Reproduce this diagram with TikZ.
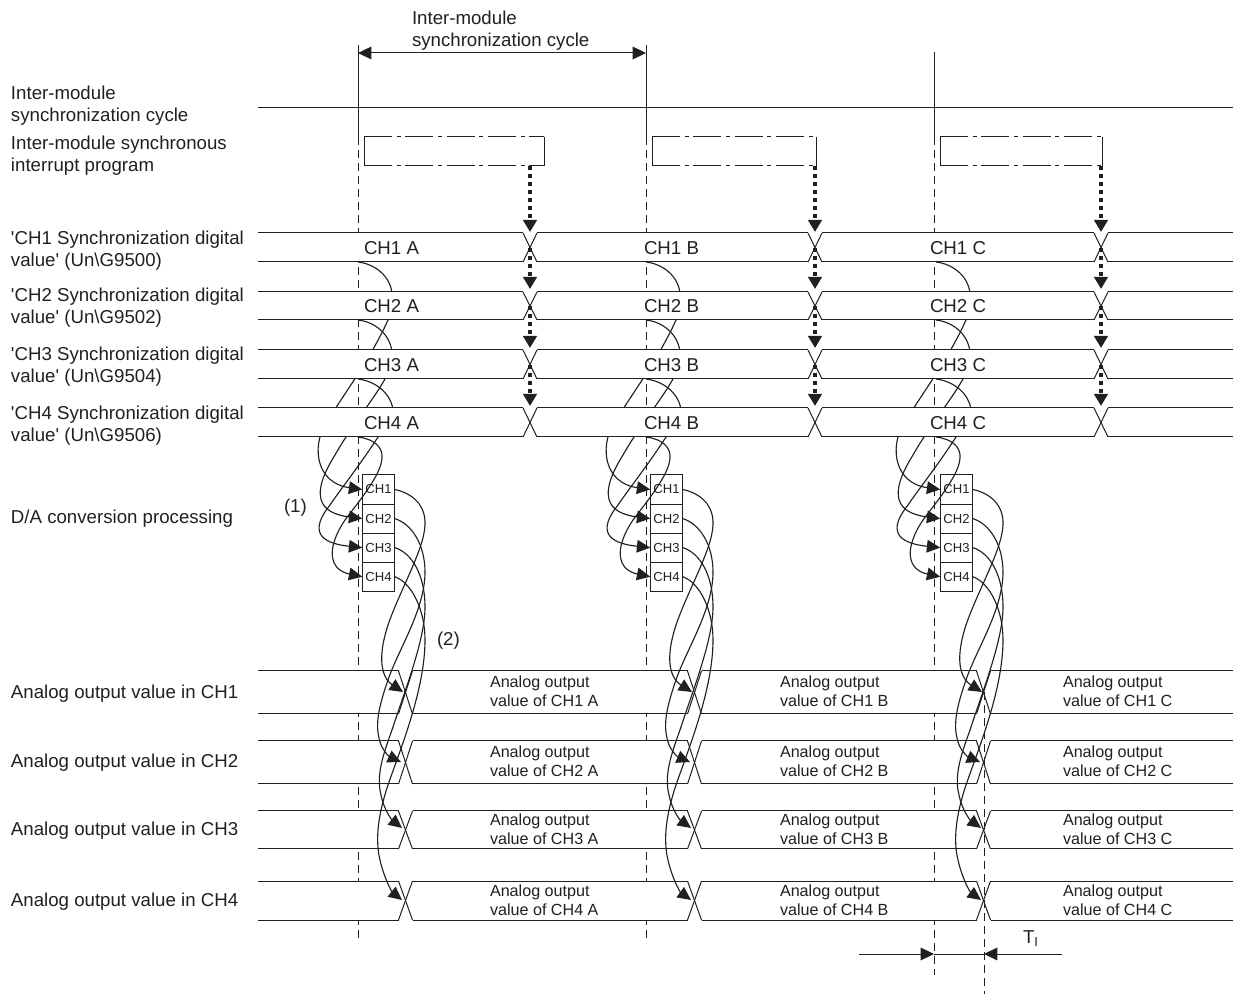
\documentclass[tikz,border=0pt]{standalone}
\usepackage{fontspec}
\setmainfont{Liberation Sans}
\usetikzlibrary{arrows.meta, positioning}
\definecolor{melink}{RGB}{35, 31, 32}
\newcommand{\busband}[3]{%
  \fill[white] (258,#1) rectangle (1233,#2);
  \foreach \cx [remember=\cx as \px (initially 251)] in {#3} {
    \draw[sig] (\px+7,#1) -- (\cx-7,#1);
    \draw[sig] (\px+7,#2) -- (\cx-7,#2);
    \draw[sig] (\cx-7,#1) -- (\cx+7,#2);
    \draw[sig] (\cx-7,#2) -- (\cx+7,#1);
    \xdef\lastx{\cx}
  }
  \draw[sig] (\lastx+7,#1) -- (1233,#1);
  \draw[sig] (\lastx+7,#2) -- (1233,#2);
}

\begin{document}
\begin{tikzpicture}[
  x=0.75pt, y=-0.75pt,
  every node/.style={text=melink, inner sep=0pt, outer sep=0pt},
  sig/.style={draw=melink, line width=0.75pt},
  guide/.style={draw=melink, line width=0.75pt, dash pattern=on 6pt off 3.75pt},
  lbl/.style={anchor=west, align=left, yshift=-1.5pt, font=\fontsize{14}{16.6}\selectfont},
  val/.style={anchor=west, font=\fontsize{14}{16.6}\selectfont},
  outlbl/.style={anchor=west, align=left, font=\fontsize{12.1}{14}\selectfont},
  progdash/.style={draw=melink, line width=0.75pt,
                   dash pattern=on 21pt off 3.5pt on 3pt off 3.5pt},
  chbox/.style={draw=melink, line width=0.75pt, minimum width=24.4pt, minimum height=21.8pt,
                font=\fontsize{9.8}{11}\selectfont},
  trig/.style={draw=melink, line width=2.3pt, dash pattern=on 3.2pt off 2.8pt,
               -{Triangle[length=9pt, width=10pt]}},
  wire/.style={draw=melink, line width=0.85pt, -{Triangle[length=10pt, width=9.5pt]}},
  plain/.style={draw=melink, line width=0.75pt}
]
\useasboundingbox (0,0) rectangle (1233,994);

% ── Guides ───────────────────────────────────────────────────────────────────
\foreach \col/\gx/\gtop/\gend in {A/358/45/940, B/646/45/940, C/934/52/975} {
  \coordinate (top\col) at (\gx,\gtop);
  \coordinate (sync\col) at (\gx,137);
  \coordinate (end\col) at (\gx,\gend);
  \draw[plain] (top\col) -- (sync\col);
  \draw[guide] (sync\col) -- (end\col);
}

% ── Curves behind the digital values ─────────────────────────────────────────
\foreach \col/\dx in {A/0, B/288, C/578} {
  \begin{scope}[shift={(\dx,0)}]
    \node[chbox] (da\col1) at (378.5,489.5) {CH1};
    \node[chbox, below=0pt of da\col1] (da\col2) {CH2};
    \node[chbox, below=0pt of da\col2] (da\col3) {CH3};
    \node[chbox, below=0pt of da\col3] (da\col4) {CH4};

    \draw[wire] (358,262) .. controls (375,264) and (390,276) .. (392,293)
      .. controls (393,300) and (392,308) .. (388,320)
      .. controls (370,360) and (345,392) .. (325,425)
      .. controls (312,447) and (316,483) .. (da\col1.west);
    \draw[wire] (358,320) .. controls (375,322) and (390,334) .. (392,352)
      .. controls (392,362) and (390,370) .. (385,379)
      .. controls (372,402) and (352,425) .. (335,455)
      .. controls (310,495) and (318,513) .. (da\col2.west);
    \draw[wire] (358,379) .. controls (375,381) and (391,393) .. (393,410)
      .. controls (394,420) and (385,428) .. (378,437)
      .. controls (360,465) and (340,490) .. (330,505)
      .. controls (310,530) and (318,543) .. (da\col3.west);
    \draw[wire] (358,437) .. controls (374,439) and (383,447) .. (382,458)
      .. controls (381,475) and (360,500) .. (345,520)
      .. controls (325,550) and (330,570) .. (da\col4.west);
  \end{scope}
}

% ── Digital values ───────────────────────────────────────────────────────────
\busband{233}{262}{530,815,1101}
\busband{292}{320}{530,815,1101}
\busband{350}{379}{530,815,1101}
\busband{408}{437}{530,815,1101}

\foreach \ch/\vy in {1/248, 2/306, 3/365, 4/423} {
  \node[val] (valA\ch) at (364,\vy) {CH\ch{} A};
  \node[val] (valB\ch) at (644,\vy) {CH\ch{} B};
  \node[val] (valC\ch) at (930,\vy) {CH\ch{} C};
}

% ── Analog values ────────────────────────────────────────────────────────────
\busband{671}{714}{405.5,694.5,983.5}
\busband{741}{784}{405.5,694.5,983.5}
\busband{811}{849}{405.5,694.5,983.5}
\busband{881}{920}{405.5,694.5,983.5}

\foreach \ch/\oy in {1/691.5, 2/761, 3/829.5, 4/900} {
  \node[outlbl] (outA\ch) at (490,\oy) {Analog output\\value of CH\ch{} A};
  \node[outlbl] (outB\ch) at (780,\oy) {Analog output\\value of CH\ch{} B};
  \node[outlbl] (outC\ch) at (1063,\oy) {Analog output\\value of CH\ch{} C};
}

% ── Cycle line, program boxes, triggers ──────────────────────────────────────
\coordinate (cycleL) at (258,108);
\coordinate (cycleR) at (1233,108);
\draw[plain] (cycleL) -- (cycleR);

\foreach \col/\bl/\br/\trx in {A/364/544/530, B/652/816/815, C/940/1102/1101} {
  \draw[plain] (\bl,137) -- (\bl,166);
  \draw[plain] (\br,137) -- (\br,166);
  \draw[progdash] (\bl,137) -- (\br,137);
  \draw[progdash] (\bl,166) -- (\br,166);
  \coordinate (prog\col) at (\trx,166);
  \coordinate (x1\col) at (\trx,248);
  \coordinate (x2\col) at (\trx,306);
  \coordinate (x3\col) at (\trx,365);
  \coordinate (hit1\col) at (\trx,232);
  \coordinate (hit2\col) at (\trx,289);
  \coordinate (hit3\col) at (\trx,348);
  \coordinate (hit4\col) at (\trx,406);
  \draw[trig] (prog\col) -- (hit1\col);
  \draw[trig] (x1\col) -- (hit2\col);
  \draw[trig] (x2\col) -- (hit3\col);
  \draw[trig] (x3\col) -- (hit4\col);
}

% ── Curves to the analog values ──────────────────────────────────────────────
\foreach \col/\dx/\tx in {A/0/0, B/288/289, C/578/579} {
  \coordinate (tip\col1) at (403+\tx,692);
  \coordinate (tip\col2) at (401+\tx,762);
  \coordinate (tip\col3) at (402+\tx,828);
  \coordinate (tip\col4) at (402+\tx,900);
  \begin{scope}[shift={(\dx,0)}]
    \draw[wire] (da\col1.east) .. controls (412,493) and (426,505) .. (425,525)
      .. controls (424,550) and (400,590) .. (388,625)
      .. controls (375,665) and (385,680) .. (tip\col1);
    \draw[wire] (da\col2.east) .. controls (412,524) and (425,545) .. (425,572)
      .. controls (425,610) and (398,650) .. (388,680)
      .. controls (380,703) and (375,722) .. (379,738)
      .. controls (381,750) and (390,757) .. (tip\col2);
    \draw[wire] (da\col3.east) .. controls (412,553) and (425,575) .. (425,607)
      .. controls (425,640) and (405,690) .. (392,730)
      .. controls (383,755) and (376,775) .. (381,795)
      .. controls (384,810) and (392,820) .. (tip\col3);
    \draw[wire] (da\col4.east) .. controls (412,583) and (425,610) .. (425,640)
      .. controls (425,690) and (400,750) .. (388,785)
      .. controls (378,815) and (375,840) .. (380,860)
      .. controls (384,878) and (392,892) .. (tip\col4);
  \end{scope}
}

% ── Labels ───────────────────────────────────────────────────────────────────
\node[lbl] (spanlbl) at (412,29) {Inter-module\\synchronization cycle};
\coordinate (spanL) at (358,53);
\coordinate (spanR) at (646,53);
\draw[plain, {Triangle[length=10pt, width=9.5pt]}-{Triangle[length=10pt, width=9.5pt]}] (spanL) -- (spanR);

\node[lbl] (lcycle) at (11,104) {Inter-module\\synchronization cycle};
\node[lbl] (lprog) at (11,154) {Inter-module synchronous\\interrupt program};
\node[lbl] (ldig1) at (11,249) {\textquotesingle CH1 Synchronization digital\\value\textquotesingle{} (Un\textbackslash G9500)};
\node[lbl] (ldig2) at (11,306) {\textquotesingle CH2 Synchronization digital\\value\textquotesingle{} (Un\textbackslash G9502)};
\node[lbl] (ldig3) at (11,365) {\textquotesingle CH3 Synchronization digital\\value\textquotesingle{} (Un\textbackslash G9504)};
\node[lbl] (ldig4) at (11,423.5) {\textquotesingle CH4 Synchronization digital\\value\textquotesingle{} (Un\textbackslash G9506)};
\node[lbl] (lda) at (11,517) {D/A conversion processing};
\node[lbl] (mark1) at (284,506) {(1)};
\node[lbl] (mark2) at (437,639) {(2)};
\node[lbl] (lout1) at (11,692) {Analog output value in CH1};
\node[lbl] (lout2) at (11,761) {Analog output value in CH2};
\node[lbl] (lout3) at (11,829) {Analog output value in CH3};
\node[lbl] (lout4) at (11,900) {Analog output value in CH4};

% ── Conversion time ──────────────────────────────────────────────────────────
\coordinate (tiTop) at (984,692);
\coordinate (tiEnd) at (984,994);
\draw[guide] (tiTop) -- (tiEnd);
\coordinate (tiA) at (934,954);
\coordinate (tiB) at (984,954);
\coordinate (tiL) at (859,954);
\coordinate (tiR) at (1062,954);
\draw[plain, -{Triangle[length=10pt, width=9.5pt]}] (tiL) -- (tiA);
\draw[plain, -{Triangle[length=10pt, width=9.5pt]}] (tiR) -- (tiB);
\draw[plain] (tiA) -- (tiB);
\node[lbl] (tilbl) at (1023,937) {T\textsubscript{I}};

\end{tikzpicture}
\end{document}
